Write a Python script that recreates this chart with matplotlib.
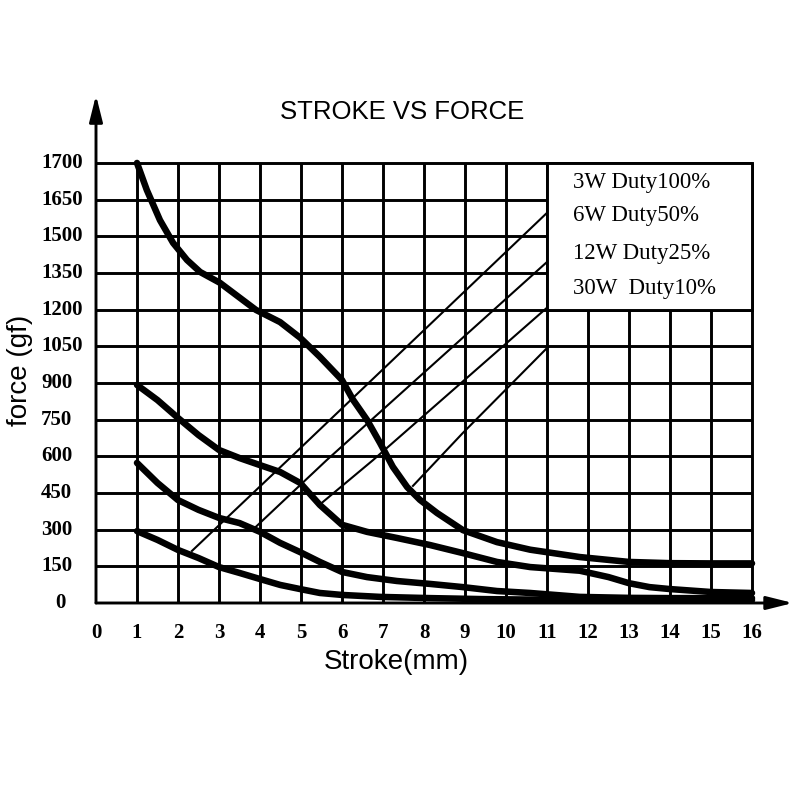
import numpy as np
import matplotlib
matplotlib.use("Agg")
import matplotlib.pyplot as plt

# y axis labels (evenly spaced rows, uneven values)
y_ticks = [0, 150, 300, 450, 600, 750, 900, 1050, 1200, 1350, 1500, 1650, 1700]
x_ticks = list(range(0, 17))

legend_lines = ["3W Duty100%", "6W Duty50%", "12W Duty25%", "30W  Duty10%"]

# thick force curves, force in gf
stroke_a = [1, 1.24, 1.56, 1.88, 2.22, 2.54, 3.02, 3.9, 4.49, 4.98, 5.46, 6.0, 6.27, 6.61, 6.93,
            7.24, 7.59, 7.9, 8.32, 8.95, 9.78, 10.59, 11.8, 13, 14, 15, 16]
force_a = [1700, 1663, 1566, 1473, 1403, 1354, 1310, 1199, 1149, 1085, 1007, 912, 831, 749, 654,
           557, 474, 422, 368, 298, 249, 218, 188, 168, 163, 162, 162]

stroke_b = [1, 1.5, 2, 2.5, 3, 3.5, 4, 4.49, 4.98, 5.46, 6.0, 6.61, 7.34, 8.15, 8.95, 9.78, 10.59,
            11.8, 12.5, 13, 13.5, 14, 15, 16]
force_b = [892, 830, 757, 687, 626, 593, 564, 536, 491, 401, 320, 291, 266, 237, 204, 168, 147,
           132, 106, 81, 65, 57, 45, 41]

stroke_c = [1, 1.5, 2, 2.5, 3, 3.5, 4, 4.49, 4.98, 5.46, 6.0, 6.61, 7.34, 8.15, 8.95, 9.78, 10.59,
            11.8, 13, 14, 16]
force_c = [573, 491, 421, 381, 348, 327, 291, 246, 208, 168, 127, 106, 90, 78, 65, 49, 41, 25,
           21, 20, 20]

stroke_d = [1, 1.5, 2, 2.5, 3, 3.5, 4, 4.49, 4.98, 5.46, 6.0, 6.93, 8.15, 9.4, 11.8, 14, 16]
force_d = [294, 258, 217, 184, 147, 123, 98, 74, 57, 41, 33, 25, 20, 16, 12, 12, 12]

# thin diagonal lines
diag_x = [[2.34, 4.68, 11], [3.80, 5.63, 11], [5.51, 6.76, 11], [7.73, 8.95, 11]]
diag_f = [[213, 585, 1596], [296, 585, 1395], [410, 585, 1208], [479, 696, 1043]]

rows = np.arange(len(y_ticks))


def to_row(f):
    return np.interp(f, y_ticks, rows)


fig = plt.figure(figsize=(8, 8), dpi=100)
ax = fig.add_axes([0, 0, 1, 1])
# pixel mapping: x=0 at 96px, 41 px/unit; row 0 at 603px from top, 36.67 px/row
ax.set_xlim(-96 / 41, (800 - 96) / 41)
ax.set_ylim((603 - 800) / 36.67, 603 / 36.67)
ax.axis("off")

# grid
for r in rows[1:]:
    ax.plot([0, 16], [r, r], color="black", lw=2.1, zorder=1, solid_capstyle="butt")
for x in x_ticks[1:]:
    ax.plot([x, x], [0, 12], color="black", lw=2.1, zorder=1, solid_capstyle="butt")

# diagonal lines
for xs, fs in zip(diag_x, diag_f):
    ax.plot(xs, to_row(fs), color="black", lw=1.5, zorder=2)

# legend box
ax.add_patch(plt.Rectangle((11, 8), 5, 4, facecolor="white", edgecolor="black", lw=2.1, zorder=3))
for i, txt in enumerate(legend_lines):
    ax.text(11.63, [11.48, 10.58, 9.54, 8.59][i], txt, family="Liberation Serif",
            fontsize=16.5, ha="left", va="center", zorder=4)

# thick curves
for xs, fs in [(stroke_a, force_a), (stroke_b, force_b), (stroke_c, force_c), (stroke_d, force_d)]:
    ax.plot(xs, to_row(fs), color="black", lw=4.7, solid_capstyle="round",
            solid_joinstyle="round", zorder=6)

# axes with arrows
ax.annotate("", xy=(17.0, 0), xytext=(0, 0), zorder=5,
            arrowprops=dict(arrowstyle="-|>,head_length=0.8,head_width=0.2", lw=2.1,
                            color="black", mutation_scale=20, shrinkA=0, shrinkB=0))
ax.annotate("", xy=(0, 13.85), xytext=(0, 0), zorder=5,
            arrowprops=dict(arrowstyle="-|>,head_length=0.8,head_width=0.2", lw=2.1,
                            color="black", mutation_scale=20, shrinkA=0, shrinkB=0))

# tick labels
for x in x_ticks:
    ax.text(x, -0.82, str(x), family="Liberation Serif", fontsize=15, fontweight="bold",
            ha="center", va="center")
for r, v in zip(rows, y_ticks):
    if v == 0:
        ax.text((60 - 96) / 41, r, str(v), family="Liberation Serif", fontsize=15,
                fontweight="bold", ha="center", va="center")
    else:
        ax.text((41 - 96) / 41, r, str(v), family="Liberation Serif", fontsize=15,
                fontweight="bold", ha="left", va="center")

ax.text(7.46, 13.39, "STROKE VS FORCE", family="Liberation Sans", fontsize=18.5,
        ha="center", va="center")
ax.text(7.32, -1.61, "Stroke(mm)", family="Liberation Sans", fontsize=20,
        ha="center", va="center")
ax.text(-1.85, 6.35, "force (gf)", family="Liberation Sans", fontsize=20,
        ha="center", va="center", rotation=90)

fig.savefig("out.png", dpi=100)
